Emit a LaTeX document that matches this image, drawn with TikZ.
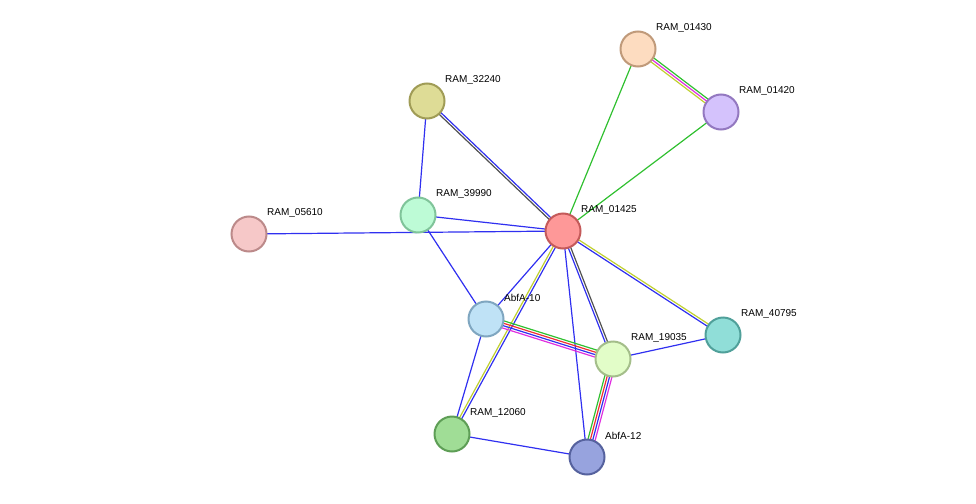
\documentclass[tikz,border=0pt]{standalone}
\usepackage{fontspec}
\setmainfont{Liberation Sans}
\usetikzlibrary{calc}
\definecolor{eb}{HTML}{3030F0}
\definecolor{eg}{HTML}{30C030}
\definecolor{ey}{HTML}{C0D030}
\definecolor{em}{HTML}{E030E0}
\definecolor{er}{HTML}{F03030}
\definecolor{ek}{HTML}{505050}
\newcommand{\edg}[4]{\draw[#4,line width=1.2pt] ($(#1)!#3!90:(#2)$) -- ($(#2)!#3!-90:(#1)$);}
\tikzset{prot/.style={circle,minimum size=35pt,inner sep=0pt,line width=2pt},
lab/.style={anchor=west,font=\fontsize{10}{12}\selectfont,inner sep=0pt}}
\begin{document}
\begin{tikzpicture}[x=1pt,y=-1pt]
\useasboundingbox (0,0) rectangle (976,503);
\coordinate (a30) at (638,49);
\coordinate (a20) at (721,112);
\coordinate (a32) at (427,101);
\coordinate (a39) at (418,215);
\coordinate (a56) at (249,234);
\coordinate (a25) at (563,231);
\coordinate (b10) at (486,319);
\coordinate (a40) at (723,335);
\coordinate (a19) at (613,359);
\coordinate (a12) at (452,434);
\coordinate (b12) at (587,457);
\edg{a30}{a20}{-2.4pt}{ey}\edg{a30}{a20}{0pt}{em}\edg{a30}{a20}{2.4pt}{eg}
\edg{a30}{a25}{0pt}{eg}
\edg{a20}{a25}{0pt}{eg}
\edg{a32}{a25}{-1.2pt}{ek}\edg{a32}{a25}{1.2pt}{eb}
\edg{a32}{a39}{0pt}{eb}
\edg{a39}{a25}{0pt}{eb}
\edg{a56}{a25}{0pt}{eb}
\edg{a39}{b10}{0pt}{eb}
\edg{a25}{b10}{0pt}{eb}
\edg{a25}{a12}{-1.2pt}{ey}\edg{a25}{a12}{1.2pt}{eb}
\edg{a25}{a19}{-1.2pt}{eb}\edg{a25}{a19}{1.2pt}{ek}
\edg{a25}{b12}{0pt}{eb}
\edg{a25}{a40}{-1.2pt}{eb}\edg{a25}{a40}{1.2pt}{ey}
\edg{b10}{a19}{-3.6pt}{em}\edg{b10}{a19}{-1.2pt}{eb}\edg{b10}{a19}{1.2pt}{er}\edg{b10}{a19}{3.6pt}{eg}
\edg{a19}{b12}{3.6pt}{em}\edg{a19}{b12}{1.2pt}{eb}\edg{a19}{b12}{-1.2pt}{er}\edg{a19}{b12}{-3.6pt}{eg}
\edg{b10}{a12}{0pt}{eb}
\edg{a19}{a40}{0pt}{eb}
\edg{a12}{b12}{0pt}{eb}
\node[prot,fill={rgb,255:red,253;green,220;blue,192},draw={rgb,255:red,192;green,154;blue,122}] (n30) at (a30) {};
\node[prot,fill={rgb,255:red,212;green,194;blue,252},draw={rgb,255:red,147;green,120;blue,192}] (n20) at (a20) {};
\node[prot,fill={rgb,255:red,222;green,220;blue,150},draw={rgb,255:red,160;green,156;blue,86}] (n32) at (a32) {};
\node[prot,fill={rgb,255:red,189;green,251;blue,214},draw={rgb,255:red,128;green,196;blue,154}] (n39) at (a39) {};
\node[prot,fill={rgb,255:red,246;green,200;blue,200},draw={rgb,255:red,188;green,138;blue,138}] (n56) at (a56) {};
\node[prot,fill={rgb,255:red,254;green,152;blue,152},draw={rgb,255:red,196;green,90;blue,90}] (n25) at (a25) {};
\node[prot,fill={rgb,255:red,191;green,226;blue,246},draw={rgb,255:red,127;green,166;blue,192}] (m10) at (b10) {};
\node[prot,fill={rgb,255:red,144;green,222;blue,216},draw={rgb,255:red,80;green,160;blue,154}] (n40) at (a40) {};
\node[prot,fill={rgb,255:red,226;green,253;blue,200},draw={rgb,255:red,164;green,190;blue,138}] (n19) at (a19) {};
\node[prot,fill={rgb,255:red,160;green,221;blue,150},draw={rgb,255:red,94;green,158;blue,86}] (n12) at (a12) {};
\node[prot,fill={rgb,255:red,151;green,163;blue,222},draw={rgb,255:red,86;green,98;blue,158}] (m12) at (b12) {};
\node[lab] (t30) at ($(a30)+(18,-21)$) {RAM\_01430};
\node[lab] (t20) at ($(a20)+(18,-21)$) {RAM\_01420};
\node[lab] (t32) at ($(a32)+(18,-21)$) {RAM\_32240};
\node[lab] (t39) at ($(a39)+(18,-21)$) {RAM\_39990};
\node[lab] (t56) at ($(a56)+(18,-21)$) {RAM\_05610};
\node[lab] (t25) at ($(a25)+(18,-21)$) {RAM\_01425};
\node[lab] (u10) at ($(b10)+(18,-21)$) {AbfA-10};
\node[lab] (t40) at ($(a40)+(18,-21)$) {RAM\_40795};
\node[lab] (t19) at ($(a19)+(18,-21)$) {RAM\_19035};
\node[lab] (t12) at ($(a12)+(18,-21)$) {RAM\_12060};
\node[lab] (u12) at ($(b12)+(18,-21)$) {AbfA-12};
\end{tikzpicture}
\end{document}
